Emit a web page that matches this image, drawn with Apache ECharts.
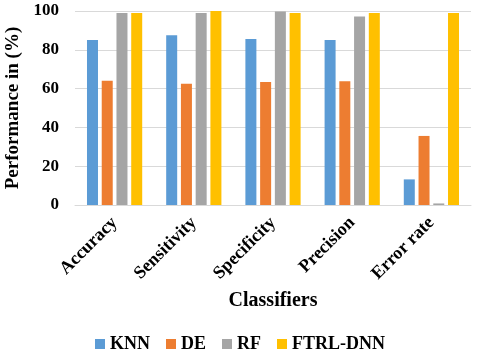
<!DOCTYPE html>
<html>
<head>
<meta charset="utf-8">
<script src="https://cdn.jsdelivr.net/npm/echarts@6/dist/echarts.min.js"></script>
<style>html,body{margin:0;padding:0;background:#fff}#c{width:480px;height:360px}</style>
</head>
<body>
<div id="c"></div>
<script>
const categories = ['Accuracy', 'Sensitivity', 'Specificity', 'Precision', 'Error rate'];
const seriesNames = ['KNN', 'DE', 'RF', 'FTRL-DNN'];
const knn = [85, 87.5, 85.6, 85, 13.2];
const de = [64, 62.5, 63.4, 63.8, 35.6];
const rf = [99, 99, 99.7, 97.2, 0.8];
const ftrl = [99, 100, 99, 99, 99];
const yTicks = [0, 20, 40, 60, 80, 100];
const colors = ['#5B9BD5', '#ED7D31', '#A5A5A5', '#FFC000'];

const font = 'Liberation Serif';
const chart = echarts.init(document.getElementById('c'), null, {renderer: 'canvas'});
const values = [knn, de, rf, ftrl];
chart.setOption({
  animation: false,
  color: colors,
  grid: {left: 75, right: 9, top: 11, bottom: 155, containLabel: false, outerBoundsMode: 'none'},
  legend: {
    data: seriesNames,
    bottom: 2,
    left: 'center',
    itemWidth: 10,
    itemHeight: 10,
    itemGap: 16,
    icon: 'rect',
    textStyle: {fontFamily: font, fontWeight: 'bold', fontSize: 18, color: '#000'}
  },
  xAxis: {
    type: 'category',
    data: categories,
    name: 'Classifiers',
    nameLocation: 'middle',
    nameGap: 86,
    nameTextStyle: {fontFamily: font, fontWeight: 'bold', fontSize: 20, color: '#000'},
    axisLine: {show: true, lineStyle: {color: '#d9d9d9'}},
    axisTick: {show: false},
    axisLabel: {rotate: 45, margin: 15, fontFamily: font, fontWeight: 'bold', fontSize: 18, color: '#000'}
  },
  yAxis: {
    type: 'value',
    min: yTicks[0],
    max: yTicks[yTicks.length - 1],
    interval: 20,
    name: 'Performance in (%)',
    nameLocation: 'middle',
    nameGap: 50,
    nameTextStyle: {fontFamily: font, fontWeight: 'bold', fontSize: 19, color: '#000'},
    axisLine: {show: false},
    axisTick: {show: false},
    splitLine: {lineStyle: {color: '#d9d9d9', width: 1}},
    axisLabel: {margin: 16, fontFamily: font, fontWeight: 'bold', fontSize: 17, color: '#000'}
  },
  series: seriesNames.map((n, i) => ({
    name: n,
    type: 'bar',
    data: values[i],
    barWidth: 11,
    barGap: '34%',
    itemStyle: {color: colors[i]}
  }))
});
</script>
</body>
</html>
